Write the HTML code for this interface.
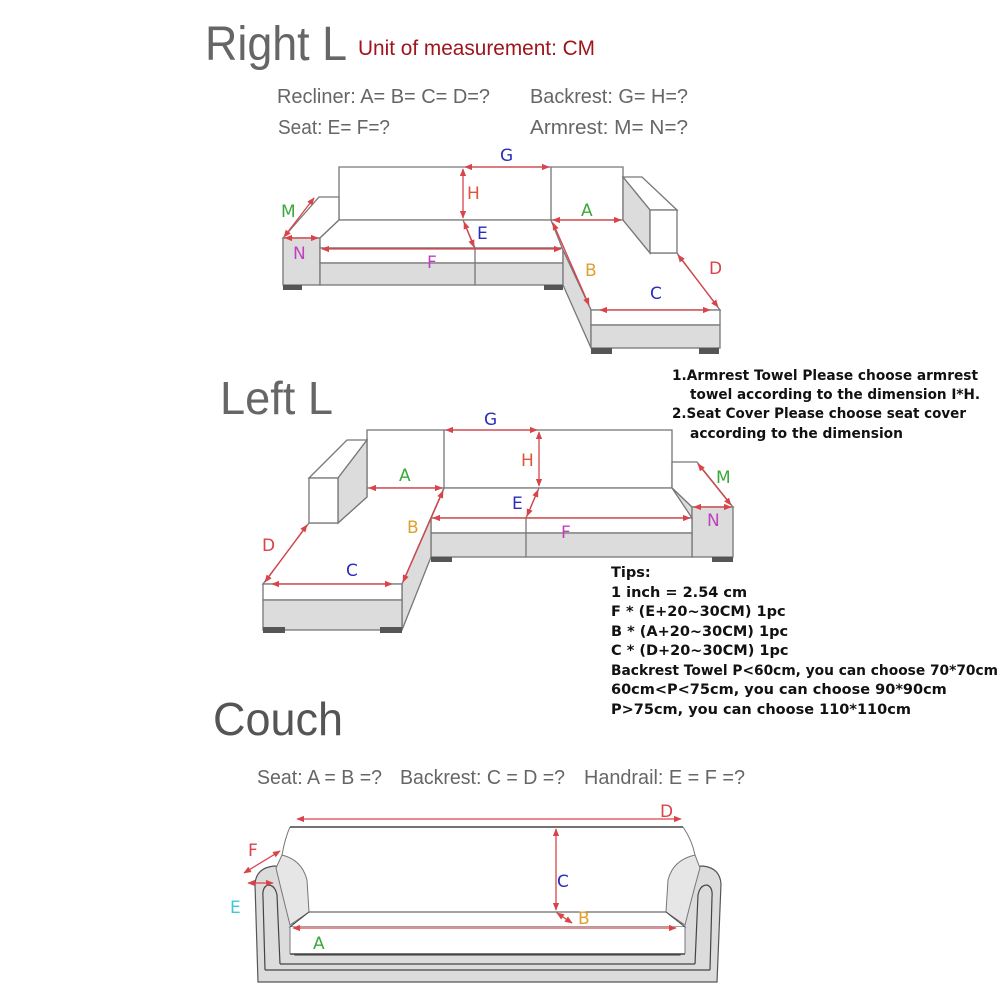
<!DOCTYPE html>
<html><head><meta charset="utf-8"><style>
html,body{margin:0;padding:0;background:#fff;}
svg{display:block;}
.t{font-family:"Liberation Sans",sans-serif;}
.n{font-family:"DejaVu Sans","Liberation Sans",sans-serif;font-weight:bold;font-size:14.5px;fill:#111;}
.ln{stroke:#777;stroke-width:1.3;fill:none;}
.a{stroke:#d9434a;stroke-width:1.3;fill:none;marker-start:url(#m);marker-end:url(#m);}
.sh{fill:#dcdcdc;stroke:#777;stroke-width:1.3;}
.wh{fill:#fff;stroke:#777;stroke-width:1.3;}
.leg{fill:#555;}
.lb{font-family:"DejaVu Sans","Liberation Sans",sans-serif;font-size:17px;}
</style></head><body>
<svg width="1000" height="1000" viewBox="0 0 1000 1000" xmlns="http://www.w3.org/2000/svg">
<defs><marker id="m" viewBox="0 0 10 10" refX="9" refY="5" markerWidth="6" markerHeight="6" orient="auto-start-reverse"><path d="M0,1 L10,5 L0,9 z" fill="#d9434a"/></marker></defs>

<text class="t" x="205" y="60" font-size="48" fill="#666" textLength="142" lengthAdjust="spacingAndGlyphs">Right L</text>
<text class="t" x="358" y="55" font-size="21" fill="#a0151c" textLength="237" lengthAdjust="spacingAndGlyphs">Unit of measurement: CM</text>
<text class="t" x="277" y="103" font-size="20" fill="#666" textLength="213" lengthAdjust="spacingAndGlyphs">Recliner: A= B= C= D=?</text>
<text class="t" x="530" y="103" font-size="20" fill="#666" textLength="158" lengthAdjust="spacingAndGlyphs">Backrest: G= H=?</text>
<text class="t" x="278" y="134" font-size="20" fill="#666" textLength="112" lengthAdjust="spacingAndGlyphs">Seat: E= F=?</text>
<text class="t" x="530" y="134" font-size="20" fill="#666" textLength="158" lengthAdjust="spacingAndGlyphs">Armrest: M= N=?</text>

<!-- RIGHT L -->
<polygon class="wh" points="339,167 623,167 623,220 339,220"/>
<line class="ln" x1="551" y1="167" x2="551" y2="220"/>
<polygon class="wh" points="283,238 319,197 339,197 339,220 320,238"/>
<polygon class="sh" points="320,238 339,220 339,235 320,250"/>
<rect class="sh" x="283" y="238" width="37" height="47"/>
<polygon class="wh" points="339,220 551,220 563,248 320,248 320,238"/>
<rect class="wh" x="320" y="248" width="243" height="15"/>
<rect class="sh" x="320" y="263" width="243" height="22"/>
<line class="ln" x1="475" y1="248" x2="475" y2="285"/>
<line class="ln" x1="463" y1="220" x2="475" y2="248"/>
<polygon class="wh" points="551,220 623,220 650,253 677,253 720,310 591,310 563,250"/>
<polygon class="sh" points="563,250 591,310 591,348 563,285"/>
<rect class="wh" x="591" y="310" width="129" height="15"/>
<rect class="sh" x="591" y="325" width="129" height="23"/>
<polygon class="wh" points="623,177 642,177 677,210 650,210"/>
<polygon class="sh" points="623,177 650,210 650,253 623,220"/>
<rect class="wh" x="650" y="210" width="27" height="43"/>
<rect class="leg" x="283" y="285" width="19" height="5"/><rect class="leg" x="544" y="285" width="19" height="5"/>
<rect class="leg" x="591" y="348" width="21" height="6"/><rect class="leg" x="699" y="348" width="20" height="6"/>
<line class="a" x1="465" y1="167" x2="549" y2="167"/>
<line class="a" x1="463" y1="169" x2="463" y2="218"/>
<line class="a" x1="464" y1="222" x2="474" y2="247"/>
<line class="a" x1="322" y1="249" x2="561" y2="249"/>
<line class="a" x1="553" y1="220" x2="621" y2="220"/>
<line class="a" x1="284" y1="237" x2="314" y2="198"/>
<line class="a" x1="285" y1="238" x2="318" y2="238"/>
<line class="a" x1="553" y1="223" x2="589" y2="305"/>
<line class="a" x1="600" y1="310" x2="710" y2="310"/>
<line class="a" x1="678" y1="255" x2="718" y2="307"/>
<text class="lb" x="500" y="161" fill="#2b2fb8">G</text>
<text class="lb" x="467" y="199" fill="#e0553a">H</text>
<text class="lb" x="477" y="239" fill="#2b2fb8">E</text>
<text class="lb" x="427" y="268" fill="#c040c0">F</text>
<text class="lb" x="581" y="216" fill="#3aa83a">A</text>
<text class="lb" x="281" y="217" fill="#3aa83a">M</text>
<text class="lb" x="293" y="259" fill="#c040c0">N</text>
<text class="lb" x="585" y="276" fill="#e0a030">B</text>
<text class="lb" x="650" y="299" fill="#2b2fb8">C</text>
<text class="lb" x="709" y="274" fill="#d9434a">D</text>

<text class="n" x="672" y="380" textLength="306" lengthAdjust="spacingAndGlyphs">1.Armrest Towel Please choose armrest</text>
<text class="n" x="690" y="399" textLength="290" lengthAdjust="spacingAndGlyphs">towel according to the dimension I*H.</text>
<text class="n" x="672" y="418" textLength="294" lengthAdjust="spacingAndGlyphs">2.Seat Cover Please choose seat cover</text>
<text class="n" x="690" y="438" textLength="213" lengthAdjust="spacingAndGlyphs">according to the dimension</text>

<!-- LEFT L -->
<text class="t" x="220" y="414" font-size="46" fill="#666" textLength="113" lengthAdjust="spacingAndGlyphs">Left L</text>
<rect class="wh" x="367" y="430" width="305" height="58"/>
<line class="ln" x1="444" y1="430" x2="444" y2="488"/>
<polygon class="wh" points="672,462 697,462 733,507 692,507 672,488"/>
<polygon class="sh" points="672,488 692,507 692,518 672,500"/>
<rect class="sh" x="692" y="507" width="41" height="50"/>
<polygon class="wh" points="444,488 672,488 692,518 431,518"/>
<rect class="wh" x="431" y="518" width="261" height="15"/>
<rect class="sh" x="431" y="533" width="261" height="24"/>
<line class="ln" x1="526" y1="518" x2="526" y2="557"/>
<line class="ln" x1="539" y1="488" x2="526" y2="518"/>
<polygon class="wh" points="367,488 444,488 402,584 263,584 309,523 338,523 367,497"/>
<polygon class="sh" points="444,488 431,518 431,557 402,630 402,584"/>
<rect class="wh" x="263" y="584" width="139" height="16"/>
<rect class="sh" x="263" y="600" width="139" height="30"/>
<polygon class="wh" points="309,478 347,440 367,440 338,478"/>
<polygon class="sh" points="338,478 367,440 367,497 338,523"/>
<rect class="wh" x="309" y="478" width="29" height="45"/>
<rect class="leg" x="263" y="627" width="22" height="6"/><rect class="leg" x="380" y="627" width="22" height="6"/>
<rect class="leg" x="431" y="557" width="21" height="5"/><rect class="leg" x="712" y="557" width="21" height="5"/>
<line class="a" x1="446" y1="430" x2="537" y2="430"/>
<line class="a" x1="539" y1="432" x2="539" y2="486"/>
<line class="a" x1="538" y1="490" x2="527" y2="516"/>
<line class="a" x1="433" y1="518" x2="690" y2="518"/>
<line class="a" x1="369" y1="488" x2="442" y2="488"/>
<line class="a" x1="698" y1="464" x2="731" y2="505"/>
<line class="a" x1="694" y1="507" x2="731" y2="507"/>
<line class="a" x1="443" y1="491" x2="403" y2="582"/>
<line class="a" x1="272" y1="584" x2="392" y2="584"/>
<line class="a" x1="307" y1="525" x2="265" y2="582"/>
<text class="lb" x="484" y="425" fill="#2b2fb8">G</text>
<text class="lb" x="521" y="466" fill="#e0553a">H</text>
<text class="lb" x="512" y="509" fill="#2b2fb8">E</text>
<text class="lb" x="561" y="538" fill="#c040c0">F</text>
<text class="lb" x="399" y="481" fill="#3aa83a">A</text>
<text class="lb" x="716" y="483" fill="#3aa83a">M</text>
<text class="lb" x="707" y="526" fill="#c040c0">N</text>
<text class="lb" x="407" y="533" fill="#e0a030">B</text>
<text class="lb" x="346" y="576" fill="#2b2fb8">C</text>
<text class="lb" x="262" y="551" fill="#d9434a">D</text>

<text class="n" x="611" y="577">Tips:</text>
<text class="n" x="611" y="597">1 inch = 2.54 cm</text>
<text class="n" x="611" y="616">F * (E+20~30CM) 1pc</text>
<text class="n" x="611" y="636">B * (A+20~30CM) 1pc</text>
<text class="n" x="611" y="655">C * (D+20~30CM) 1pc</text>
<text class="n" x="611" y="675" textLength="387" lengthAdjust="spacingAndGlyphs">Backrest Towel P&lt;60cm, you can choose 70*70cm</text>
<text class="n" x="611" y="694">60cm&lt;P&lt;75cm, you can choose 90*90cm</text>
<text class="n" x="611" y="714">P&gt;75cm, you can choose 110*110cm</text>

<!-- COUCH -->
<text class="t" x="213" y="735" font-size="46" fill="#555" textLength="130" lengthAdjust="spacingAndGlyphs">Couch</text>
<text class="t" x="257" y="784" font-size="20" fill="#666" textLength="125" lengthAdjust="spacingAndGlyphs">Seat: A = B =?</text>
<text class="t" x="400" y="784" font-size="20" fill="#666" textLength="165" lengthAdjust="spacingAndGlyphs">Backrest: C = D =?</text>
<text class="t" x="584" y="784" font-size="20" fill="#666" textLength="161" lengthAdjust="spacingAndGlyphs">Handrail: E = F =?</text>

<path d="M282,855 Q285,838 290,827 M683,827 Q692,840 695,855" fill="none" stroke="#777" stroke-width="1"/>
<line x1="290" y1="827" x2="683" y2="827" stroke="#444" stroke-width="1.6"/>
<path d="M258,982 L255,884 Q256,868 274,866 Q286,866 292,880 L295,955 L680,955 L683,880 Q689,866 703,866 Q720,868 721,884 L717,982 Z" fill="#dcdcdc" stroke="#555" stroke-width="1.2"/>
<path d="M282,855 Q302,860 307,880 L309,912 L290,925 Q280,885 276,868 Z" fill="#e6e6e6" stroke="#777" stroke-width="1"/>
<path d="M695,855 Q673,860 668,880 L666,912 L685,925 Q695,885 700,868 Z" fill="#e6e6e6" stroke="#777" stroke-width="1"/>
<polygon points="309,912 666,912 685,927 290,927" fill="#fff" stroke="#444" stroke-width="1"/>
<rect x="290" y="927" width="395" height="27" fill="#fff"/>
<line x1="290" y1="954" x2="685" y2="954" stroke="#444" stroke-width="1.4"/>
<line x1="280" y1="964" x2="695" y2="964" stroke="#444" stroke-width="1.2"/>
<line x1="265" y1="970" x2="710" y2="970" stroke="#444" stroke-width="1.2"/>
<path d="M290,954 L290,927 M685,954 L685,927" stroke="#777" stroke-width="1"/>
<path d="M280,964 L277,895 Q275,885 268,885 Q262,887 263,897 L265,970" fill="none" stroke="#444" stroke-width="1.2"/>
<path d="M695,964 L698,895 Q700,885 707,885 Q713,887 712,897 L710,970" fill="none" stroke="#444" stroke-width="1.2"/>
<line class="a" x1="297" y1="819" x2="681" y2="819"/>
<line class="a" x1="556" y1="829" x2="556" y2="910"/>
<line class="a" x1="557" y1="913" x2="572" y2="923"/>
<line class="a" x1="293" y1="928" x2="676" y2="928"/>
<line class="a" x1="244" y1="873" x2="280" y2="851"/>
<line class="a" x1="248" y1="883" x2="273" y2="883"/>
<text class="lb" x="660" y="817" fill="#d9434a">D</text>
<text class="lb" x="557" y="887" fill="#2b2fb8">C</text>
<text class="lb" x="578" y="924" fill="#e0a030">B</text>
<text class="lb" x="313" y="949" fill="#3aa83a">A</text>
<text class="lb" x="248" y="856" fill="#d9434a">F</text>
<text class="lb" x="230" y="913" fill="#3cc8d8">E</text>
</svg>
</body></html>
